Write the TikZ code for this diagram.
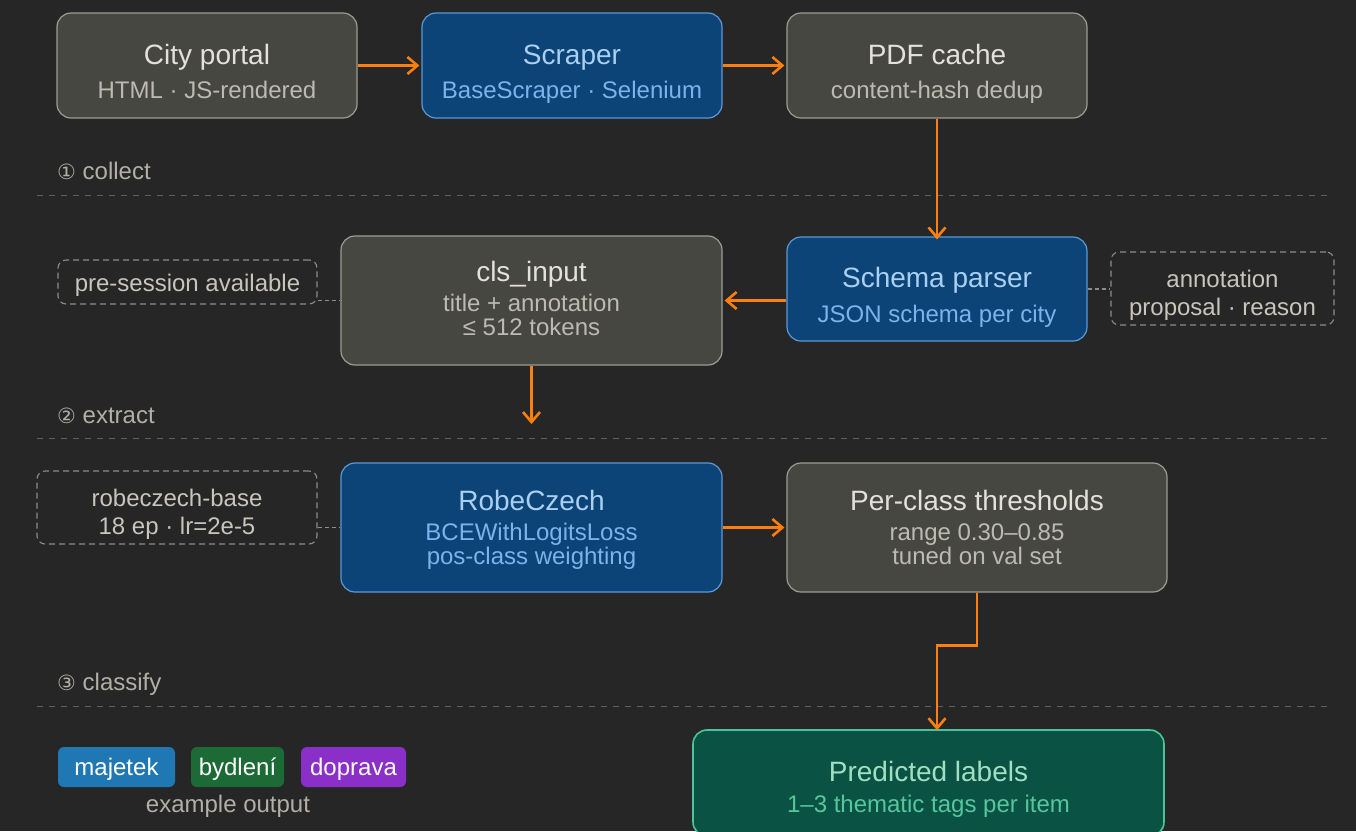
\documentclass[tikz,border=0pt]{standalone}
\usepackage{fontspec}
\setmainfont{Liberation Sans}
\newfontfamily\djv{DejaVu Sans}
\usetikzlibrary{arrows.meta}
\definecolor{bg}{HTML}{262626}
\definecolor{gfill}{HTML}{474742}
\definecolor{gdraw}{HTML}{9D9B92}
\definecolor{gtitle}{HTML}{E4E1D8}
\definecolor{gsub}{HTML}{BDBAB0}
\definecolor{bfill}{HTML}{0C4478}
\definecolor{bdraw}{HTML}{5A9AD8}
\definecolor{btitle}{HTML}{AACFF2}
\definecolor{bsub}{HTML}{7AB4EA}
\definecolor{nfill}{HTML}{0A5243}
\definecolor{ndraw}{HTML}{4CC596}
\definecolor{ntitle}{HTML}{A2DFC2}
\definecolor{nsub}{HTML}{55C79C}
\definecolor{orng}{HTML}{FF7F0E}
\definecolor{dsh}{HTML}{8C8C88}
\definecolor{dtext}{HTML}{C8C5BC}
\definecolor{sep}{HTML}{5E5E5E}
\definecolor{seclbl}{HTML}{B2AFA6}
\definecolor{tagA}{HTML}{1F77B4}
\definecolor{tagB}{HTML}{1C6B37}
\definecolor{tagC}{HTML}{8B2FC9}
\tikzset{
  boxbase/.style={rectangle, rounded corners=14pt, line width=1.2pt, inner sep=0pt},
  gbox/.style={boxbase, draw=gdraw, fill=gfill},
  bbox/.style={boxbase, draw=bdraw, fill=bfill},
  nbox/.style={boxbase, draw=ndraw, fill=nfill, line width=1.6pt},
  dbox/.style={rectangle, rounded corners=8pt, draw=dsh, line width=1.1pt, dash pattern=on 6pt off 4pt, inner sep=0pt},
  txt/.style={inner sep=0pt, anchor=base},
  ttl/.style={txt, font=\fontsize{28}{32}\selectfont},
  sub/.style={txt, font=\fontsize{24}{28}\selectfont},
  flow/.style={draw=orng, line width=2.6pt, -{Straight Barb[length=10pt,width=17pt,line width=2.6pt]}},
  link/.style={draw=dsh, line width=1.3pt, dash pattern=on 4pt off 3pt},
  sepline/.style={draw=sep, line width=1pt, dash pattern=on 6pt off 6pt},
  tag/.style={rectangle, rounded corners=6pt, inner sep=0pt, minimum height=40pt},
  seclabel/.style={inner sep=0pt, anchor=base west, text=seclbl, font=\fontsize{24}{28}\selectfont}
}
\begin{document}
\begin{tikzpicture}[x=1pt,y=-1pt]
\fill[bg] (0,0) rectangle (1356,831);
\useasboundingbox (0,0) rectangle (1356,831);
\begin{scope}
\clip (0,0) rectangle (1356,831);
% separators
\draw[sepline] (37,195) -- (1330,195);
\draw[sepline] (37,438) -- (1330,438);
\draw[sepline] (37,706) -- (1330,706);
\node[seclabel] (s1) at (57,179) {{\djv\fontsize{21}{24}\selectfont ①} collect};
\node[seclabel] (s2) at (57,423) {{\djv\fontsize{21}{24}\selectfont ②} extract};
\node[seclabel] (s3) at (57,690) {{\djv\fontsize{21}{24}\selectfont ③} classify};

% row 1
\node[gbox, minimum width=300pt, minimum height=105pt] (city) at (207,65.5) {};
\node[ttl, text=gtitle] (cityT) at (207,64) {City portal};
\node[sub, text=gsub] (cityS) at (207,98) {HTML · JS-rendered};

\node[bbox, minimum width=300pt, minimum height=105pt] (scr) at (572,65.5) {};
\node[ttl, text=btitle] (scrT) at (572,64) {Scraper};
\node[sub, text=bsub] (scrS) at (572,98) {BaseScraper · Selenium};

\node[gbox, minimum width=300pt, minimum height=105pt] (pdf) at (937,65.5) {};
\node[ttl, text=gtitle] (pdfT) at (937,64) {PDF cache};
\node[sub, text=gsub] (pdfS) at (937,98) {content-hash dedup};

% row 2
\node[bbox, minimum width=300pt, minimum height=104pt] (sch) at (937,289) {};
\node[ttl, text=btitle] (schT) at (937,287) {Schema parser};
\node[sub, text=bsub] (schS) at (937,322) {JSON schema per city};

\node[gbox, minimum width=381pt, minimum height=129pt] (cls) at (531.5,300.5) {};
\node[ttl, text=gtitle] (clsT) at (531.5,281) {cls\_input};
\node[sub, text=gsub] (clsS1) at (531.5,311) {title + annotation};
\node[sub, text=gsub] (clsS2) at (531.5,335) {≤ 512 tokens};

\node[dbox, minimum width=259pt, minimum height=44pt] (pre) at (187.5,282) {};
\node[sub, text=dtext] (preT) at (187.5,291) {pre-session available};

\node[dbox, minimum width=223pt, minimum height=73pt] (ann) at (1222.5,288.5) {};
\node[sub, text=dtext] (annT1) at (1222.5,287) {annotation};
\node[sub, text=dtext] (annT2) at (1222.5,315) {proposal · reason};

% row 3
\node[bbox, minimum width=381pt, minimum height=129pt] (robe) at (531.5,527.5) {};
\node[ttl, text=btitle] (robeT) at (531.5,510) {RobeCzech};
\node[sub, text=bsub] (robeS1) at (531.5,540) {BCEWithLogitsLoss};
\node[sub, text=bsub] (robeS2) at (531.5,564) {pos-class weighting};

\node[gbox, minimum width=380pt, minimum height=129pt] (per) at (977,527.5) {};
\node[ttl, text=gtitle] (perT) at (977,510) {Per-class thresholds};
\node[sub, text=gsub] (perS1) at (977,540) {range 0.30–0.85};
\node[sub, text=gsub] (perS2) at (977,564) {tuned on val set};

\node[dbox, minimum width=280pt, minimum height=73pt] (rb) at (177,507.5) {};
\node[sub, text=dtext] (rbT1) at (177,506) {robeczech-base};
\node[sub, text=dtext] (rbT2) at (177,534) {18 ep · lr=2e-5};

% row 4
\node[nbox, minimum width=471pt, minimum height=106pt] (pred) at (928.5,783) {};
\node[ttl, text=ntitle] (predT) at (928.5,781) {Predicted labels};
\node[sub, text=nsub] (predS) at (928.5,812) {1–3 thematic tags per item};

\node[tag, fill=tagA, minimum width=117pt] (t1) at (116.5,767) {};
\node[sub, text=white] (t1T) at (116.5,775) {majetek};
\node[tag, fill=tagB, minimum width=93pt] (t2) at (237.5,767) {};
\node[sub, text=white] (t2T) at (237.5,775) {bydlení};
\node[tag, fill=tagC, minimum width=105pt] (t3) at (353.5,767) {};
\node[sub, text=white] (t3T) at (353.5,775) {doprava};
\node[sub, text=seclbl] (ex) at (228,812) {example output};

% connectors
\draw[flow] (city.east) -- ([xshift=-2pt]scr.west);
\draw[flow] (scr.east) -- ([xshift=-2pt]pdf.west);
\draw[flow] (pdf.south) -- ([yshift=-3pt]sch.north);
\draw[flow] (sch.west |- cls.east) -- ([xshift=2pt]cls.east);
\coordinate (clsEnd) at (531.5,424);
\draw[flow] (cls.south) -- (clsEnd);
\draw[flow] (robe.east) -- ([xshift=-2pt]per.west);
\draw[flow] (per.south) -- ++(0,53) -| ([xshift=8.5pt,yshift=-1pt]pred.north);
\draw[link] (pre.east |- cls.west) -- (cls.west);
\draw[link] (sch.east) -- (ann.west |- sch.east);
\draw[link] (rb.east |- robe.west) -- (robe.west);
\end{scope}
\end{tikzpicture}
\end{document}
